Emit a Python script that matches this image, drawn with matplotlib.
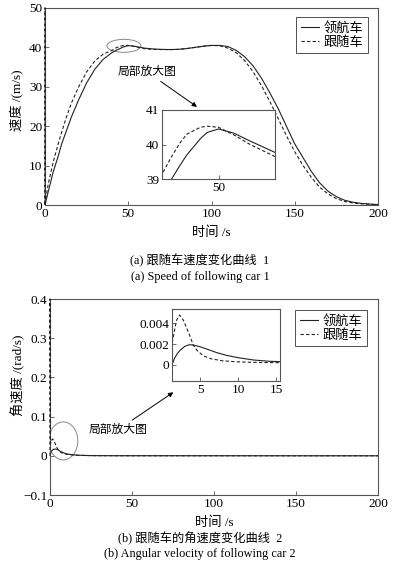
import matplotlib
matplotlib.use('Agg')
import matplotlib.pyplot as plt
from matplotlib.patches import Ellipse

plt.rcParams['font.family'] = ['Liberation Serif', 'Noto Sans CJK SC']
plt.rcParams['axes.unicode_minus'] = True

# (a) speed, main plot
t_speed = [0, 2, 5, 8, 10, 13, 16, 20, 25, 30, 35, 40, 42, 45, 47, 50, 53, 56, 60, 65, 70, 75,
           80, 85, 90, 95, 100, 105, 110, 115, 120, 125, 130, 135, 140, 145, 150, 155, 160,
           165, 170, 175, 180, 185, 190, 200]
leader_speed = [0, 3.5, 8.5, 12.5, 15.5, 19, 22.5, 26.5, 31, 34.5, 37, 38.6, 39.1, 39.7, 40.1,
                40.45, 40.35, 40.1, 39.8, 39.6, 39.5, 39.45, 39.5, 39.7, 40.0, 40.3, 40.5, 40.5,
                40.2, 39.2, 37.6, 35.3, 32.2, 28.5, 24.5, 20, 15.5, 12, 8.5, 5.6, 3.5, 2.1, 1.2,
                0.7, 0.4, 0.1]
# follower starts with a spike along t = 0
t_follower_speed = [0, 0] + t_speed
follower_speed = [0, 50, 0, 5.5, 11, 15.6, 18.5, 22.5, 26, 29.8, 33.8, 36.6, 38.3, 39.2, 39.75,
                  40.3, 40.48, 40.5, 40.28, 40.0, 39.65, 39.5, 39.45, 39.45, 39.5, 39.7, 40.0,
                  40.3, 40.5, 40.4, 39.8, 38.6, 36.6, 33.8, 30.3, 26.3, 22, 17.6, 13.5, 10, 7,
                  4.5, 2.8, 1.6, 0.9, 0.5, 0.3, 0.05]

# (a) speed, zoomed inset
t_speed_zoom = [40.2, 41.7, 43.2, 44.4, 46.8, 48, 50, 52.7, 55.6, 60]
leader_speed_zoom = [38.75, 39.0, 39.4, 39.7, 40.17, 40.35, 40.45, 40.33, 40.1, 39.77]
follower_speed_zoom = [39.2, 39.65, 40.05, 40.3, 40.5, 40.53, 40.5, 40.28, 40.0, 39.65]

# (b) angular velocity, main plot
t_leader_w = [0, 0.3, 0.8, 1.6, 2.5, 3.7, 5, 6.5, 8, 10, 13, 17, 25, 40, 200]
leader_w = [0, 0.006, 0.011, 0.015, 0.017, 0.017, 0.015, 0.011, 0.008, 0.005, 0.003, 0.0015,
            0.0005, 0.0002, 0]
t_follower_w = [0, 0, 0.3, 0.8, 1.6, 2.5, 3.7, 5, 6.5, 8, 10, 13, 17, 25, 40, 200]
follower_w = [0, 0.4, 0.03, 0.038, 0.043, 0.038, 0.025, 0.015, 0.009, 0.006, 0.004, 0.0025,
              0.0012, 0.0004, 0.0001, 0]

# (b) angular velocity, zoomed inset
t_leader_w_zoom = [1.3, 1.6, 2.0, 2.4, 3.0, 3.6, 4.2, 5, 6, 7.2, 8.5, 10, 12, 14, 15.5]
leader_w_zoom = [0, 0.0006, 0.0011, 0.00144, 0.0018, 0.00195, 0.0019, 0.00175, 0.0015,
                 0.00118, 0.00092, 0.0007, 0.00048, 0.00036, 0.00032]
t_follower_w_zoom = [1.3, 1.32, 1.5, 1.7, 1.9, 2.3, 2.8, 3.25, 3.7, 4.1, 4.6, 5.4, 6.5, 8, 9.5,
                     11, 13, 15.5]
follower_w_zoom = [0, 0.0021, 0.0028, 0.0036, 0.0043, 0.0048, 0.0043, 0.0035, 0.0027, 0.0019,
                   0.0014, 0.00088, 0.00058, 0.0004, 0.00032, 0.00027, 0.00024, 0.00022]

labels = ['领航车', '跟随车']
W, H = 394, 566
LINE = '#222222'
SPINE = '#555555'


def px_axes(left, top, right, bottom):
    return fig.add_axes([left / W, 1 - bottom / H, (right - left) / W, (bottom - top) / H])


def style(ax, fs=9.5):
    ax.tick_params(direction='in', length=3, width=0.6, labelsize=fs, pad=2, color=SPINE)
    for s in ax.spines.values():
        s.set_linewidth(0.8)
        s.set_color(SPINE)


def add_legend(ax, anchor):
    leg = ax.legend(loc='upper right', bbox_to_anchor=anchor, borderaxespad=0, fontsize=9.5,
                    handlelength=1.4, handletextpad=0.3, fancybox=False, edgecolor='#333333',
                    framealpha=1, borderpad=0.35, labelspacing=0.1)
    leg.get_frame().set_linewidth(0.6)


fig = plt.figure(figsize=(W / 100, H / 100), dpi=100)

# ---- (a) ----
ax1 = px_axes(45, 8, 378, 205)
ax1.plot(t_speed, leader_speed, '-', color=LINE, lw=0.8, label=labels[0])
ax1.plot(t_follower_speed, follower_speed, '--', color=LINE, lw=0.8, dashes=(3, 2),
         label=labels[1], clip_on=False, zorder=3)
ax1.set_xlim(0, 200)
ax1.set_ylim(0, 50)
ax1.set_xticks([0, 50, 100, 150, 200])
ax1.set_yticks([0, 10, 20, 30, 40, 50])
ax1.set_xlabel('时间 /s', fontsize=9.5, labelpad=5)
ax1.set_ylabel('速度 /(m/s)', fontsize=9.5)
ax1.yaxis.set_label_coords(-0.063, 0.53)
style(ax1)
add_legend(ax1, (0.969, 0.953))
ax1.add_patch(Ellipse((47.4, 40.4), 20.4, 3.3, fill=False, ec='#888888', lw=0.7))
ax1.annotate('局部放大图', xy=(91.3, 24.9), xytext=(61.3, 33.8), fontsize=8.5,
             ha='center', va='center',
             arrowprops=dict(arrowstyle='-|>', lw=0.7, color='k', mutation_scale=7,
                             shrinkA=1, shrinkB=0))

in1 = px_axes(162, 110, 275, 179)
in1.plot(t_speed_zoom, leader_speed_zoom, '-', color=LINE, lw=0.8)
in1.plot(t_speed_zoom, follower_speed_zoom, '--', color=LINE, lw=0.8, dashes=(3, 2))
in1.set_xlim(40, 60)
in1.set_ylim(39, 41)
in1.set_xticks([50])
in1.set_yticks([39, 40, 41])
style(in1)

# ---- (b) ----
ax2 = px_axes(50, 299, 378, 495)
ax2.plot(t_leader_w, leader_w, '-', color=LINE, lw=0.8, label=labels[0])
ax2.plot(t_follower_w, follower_w, '--', color=LINE, lw=0.8, dashes=(3, 2), label=labels[1],
         clip_on=False, zorder=3)
ax2.set_xlim(0, 200)
ax2.set_ylim(-0.1, 0.4)
ax2.set_xticks([0, 50, 100, 150, 200])
ax2.set_yticks([-0.1, 0, 0.1, 0.2, 0.3, 0.4])
ax2.set_yticklabels(['\u22120.1', '0', '0.1', '0.2', '0.3', '0.4'])
ax2.set_xlabel('时间 /s', fontsize=9.5, labelpad=5)
ax2.set_ylabel('角速度 /(rad/s)', fontsize=9.5)
ax2.yaxis.set_label_coords(-0.076, 0.61)
style(ax2)
add_legend(ax2, (0.9655, 0.944))
ax2.add_patch(Ellipse((8.1, 0.038), 17.7, 0.097, fill=False, ec='#888888', lw=0.7))
ax2.annotate('局部放大图', xy=(75.2, 0.162), xytext=(41.5, 0.0667), fontsize=8.5,
             ha='center', va='center',
             arrowprops=dict(arrowstyle='-|>', lw=0.7, color='k', mutation_scale=7,
                             shrinkA=1, shrinkB=0))

in2 = px_axes(172, 309, 280, 381)
in2.plot(t_leader_w_zoom, leader_w_zoom, '-', color=LINE, lw=0.8)
in2.plot(t_follower_w_zoom, follower_w_zoom, '--', color=LINE, lw=0.8, dashes=(3, 2))
in2.set_xlim(1.3, 15.5)
in2.set_ylim(-0.00154, 0.00538)
in2.set_xticks([5, 10, 15])
in2.set_yticks([0, 0.002, 0.004])
in2.set_yticklabels(['0', '0.002', '0.004'])
style(in2)

# captions
fig.text(200 / W, 1 - 261 / H, '(a) 跟随车速度变化曲线  1', ha='center', va='center', fontsize=8.8)
fig.text(200 / W, 1 - 277 / H, '(a) Speed of following car 1', ha='center', va='center', fontsize=8.8)
fig.text(200 / W, 1 - 539 / H, '(b) 跟随车的角速度变化曲线  2', ha='center', va='center', fontsize=8.8)
fig.text(200 / W, 1 - 553.5 / H, '(b) Angular velocity of following car 2', ha='center', va='center', fontsize=8.8)

fig.savefig('out.png', dpi=100)
